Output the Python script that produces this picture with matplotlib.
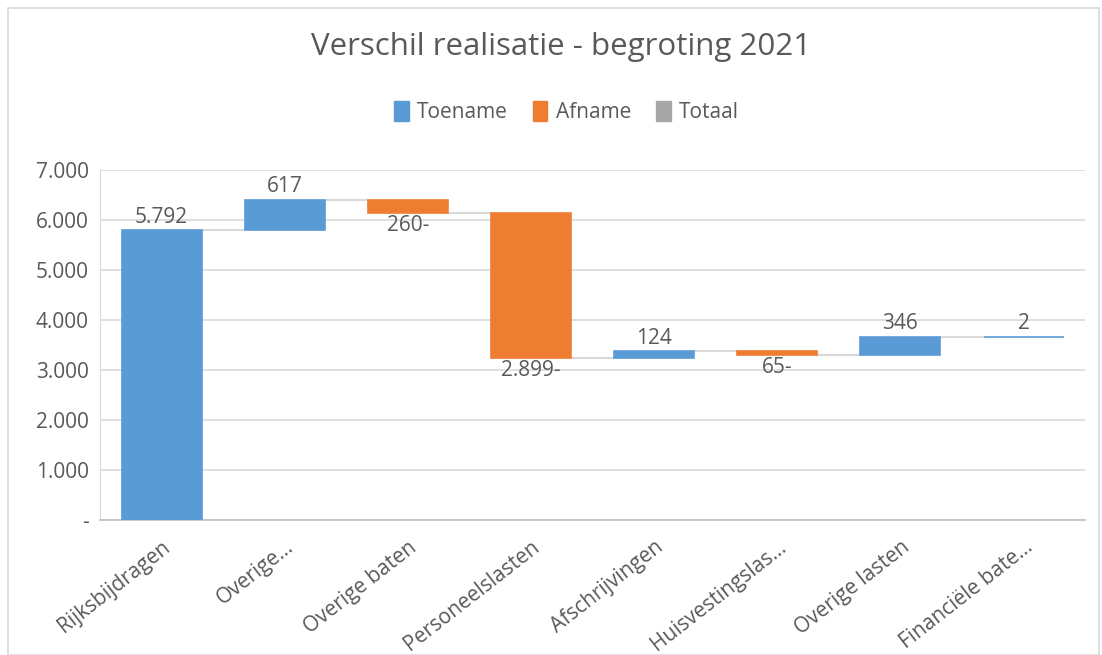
import matplotlib.pyplot as plt
from matplotlib.patches import Patch, Rectangle

# waterfall data
categories = ['Rijksbijdragen', 'Overige...', 'Overige baten', 'Personeelslasten',
              'Afschrijvingen', 'Huisvestingslas...', 'Overige lasten', 'Financiële bate...']
changes = [5792, 617, -260, -2899, 124, -65, 346, 2]
yticks = [0, 1000, 2000, 3000, 4000, 5000, 6000, 7000]
ytick_labels = ['-', '1.000', '2.000', '3.000', '4.000', '5.000', '6.000', '7.000']

BLUE = '#5B9BD5'
ORANGE = '#ED7D31'
GRAY = '#A5A5A5'
TEXT = '#595959'

plt.rcParams['font.family'] = ['Open Sans', 'DejaVu Sans']


def fmt(v):
    s = f"{abs(v):,}".replace(',', '.')
    return s + '-' if v < 0 else s


fig = plt.figure(figsize=(11.02, 6.55), dpi=100)
fig.patches.append(Rectangle((0.007, 0.0), 0.99, 0.988, transform=fig.transFigure,
                             fill=False, edgecolor='#D9D9D9', lw=1.2))
ax = fig.add_axes([0.0907, 0.206, 0.894, 0.5345])

width = 0.65
running = 0
levels = []
for i, c in enumerate(changes):
    start = running
    end = running + c
    bottom = min(start, end)
    color = BLUE if c >= 0 else ORANGE
    # edge keeps very small steps visible as a thin line
    ax.bar(i, abs(c), width=width, bottom=bottom, color=color, edgecolor=color,
           lw=1.2, zorder=3)
    if c >= 0:
        ax.annotate(fmt(c), (i, end), xytext=(0, 2), textcoords='offset points',
                    ha='center', va='bottom', fontsize=15, color=TEXT, zorder=4)
    else:
        ax.annotate(fmt(c), (i, end), xytext=(0, -2), textcoords='offset points',
                    ha='center', va='top', fontsize=15, color=TEXT, zorder=4)
    running = end
    levels.append(running)

# connector lines
for i in range(len(changes) - 1):
    ax.plot([i + width / 2, i + 1 - width / 2], [levels[i], levels[i]],
            color='#D9D9D9', lw=1.5, zorder=2)

ax.set_xlim(-0.5, len(categories) - 0.5)
ax.set_ylim(0, 7000)
ax.set_yticks(yticks)
ax.set_yticklabels(ytick_labels, fontsize=15, color=TEXT)
ax.set_xticks(range(len(categories)))
ax.set_xticklabels(categories, rotation=38, ha='right', rotation_mode='anchor',
                   fontsize=15, color=TEXT)
ax.tick_params(axis='both', length=0, pad=8)
ax.tick_params(axis='x', pad=12)
ax.grid(axis='y', color='#D9D9D9', lw=1.2, zorder=0)
for s in ['top', 'right']:
    ax.spines[s].set_visible(False)
ax.spines['left'].set_color('#D9D9D9')
ax.spines['bottom'].set_color('#BFBFBF')
ax.spines['bottom'].set_linewidth(1.2)

fig.text(0.509, 0.929, 'Verschil realisatie - begroting 2021', ha='center', va='center',
         fontsize=22.5, color=TEXT)
handles = [Patch(color=BLUE, label='Toename'), Patch(color=ORANGE, label='Afname'),
           Patch(color=GRAY, label='Totaal')]
fig.legend(handles=handles, loc='center', bbox_to_anchor=(0.514, 0.829), ncol=3,
           frameon=False, fontsize=15, labelcolor=TEXT, handlelength=0.7,
           handleheight=1.1, handletextpad=0.4, columnspacing=1.2)

fig.savefig('out.png', dpi=100)
